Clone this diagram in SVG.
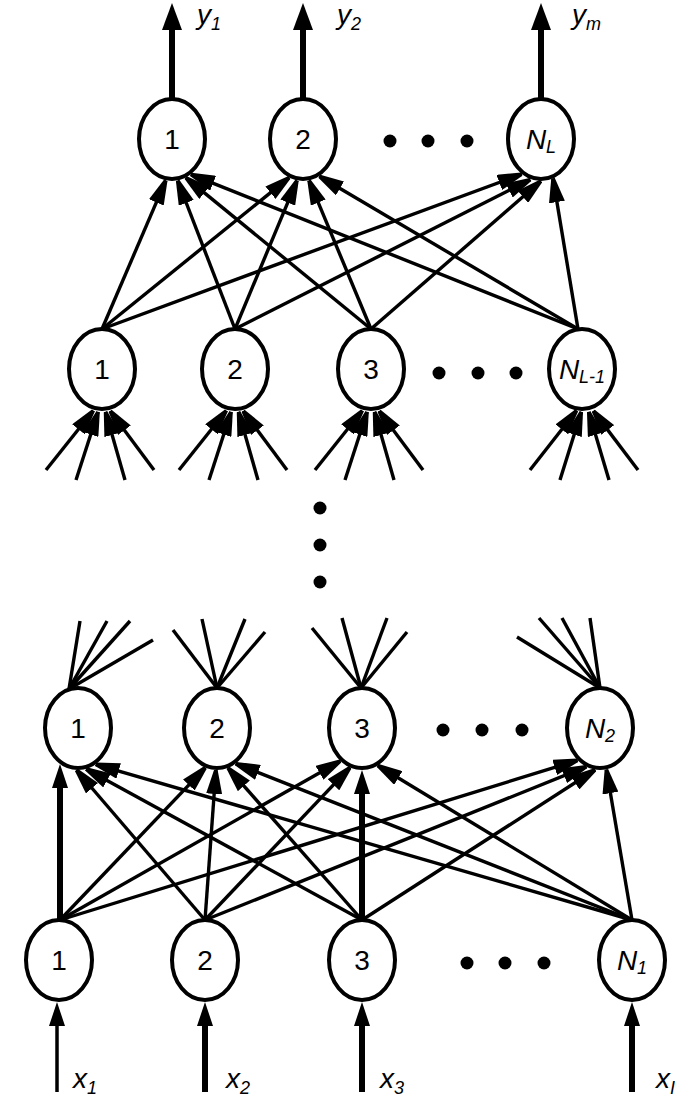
<svg xmlns="http://www.w3.org/2000/svg" width="675" height="1097" viewBox="0 0 675 1097">
<style>
.c{fill:#fff;stroke:#000;stroke-width:4}
.t{font-family:"Liberation Sans",Arial,sans-serif;font-size:28px;fill:#000}
.i{font-style:italic}
.s{font-size:18px;font-style:italic}
.ln{stroke:#000;stroke-width:3.4;fill:none}
.a{marker-end:url(#ah)}
.th{stroke:#000;stroke-width:6;fill:none;marker-end:url(#ahT)}
.tn{stroke:#000;stroke-width:3.5;fill:none;marker-end:url(#ahT)}
.out{stroke:#000;stroke-width:6;fill:none;marker-end:url(#ahO)}
.dot{fill:#000}
</style>
<defs>
<marker id="ah" viewBox="0 0 24 16" refX="24" refY="8" markerWidth="24" markerHeight="16" markerUnits="userSpaceOnUse" orient="auto"><path d="M0,0 L24,6.2 L24,9.8 L0,16 z"/></marker>
<marker id="ahT" viewBox="0 0 24 16" refX="12" refY="8" markerWidth="24" markerHeight="16" markerUnits="userSpaceOnUse" orient="auto"><path d="M0,0 L24,8 L0,16 z"/></marker>
<marker id="ahO" viewBox="0 0 27 20" refX="12" refY="10" markerWidth="27" markerHeight="20" markerUnits="userSpaceOnUse" orient="auto"><path d="M0,0 L27,10 L0,20 z"/></marker>
</defs>
<rect width="675" height="1097" fill="#fff"/>
<g id="connectors">
<!-- outputs -->
<line class="out" x1="172" y1="99" x2="172" y2="18"/>
<line class="out" x1="303" y1="99" x2="303" y2="18"/>
<line class="out" x1="541" y1="99" x2="541" y2="18"/>
<!-- layer L-1 to L -->
<g class="ln a">
<line x1="102" y1="329" x2="165.8" y2="180.3"/>
<line x1="102" y1="329" x2="289.1" y2="177.6"/>
<line x1="102" y1="329" x2="521.8" y2="174.1"/>
<line x1="235" y1="329" x2="177.6" y2="180.5"/>
<line x1="235" y1="329" x2="297" y2="180.4"/>
<line x1="235" y1="329" x2="530.5" y2="179.5"/>
<line x1="371" y1="329" x2="185.8" y2="177.6"/>
<line x1="371" y1="329" x2="309" y2="180.4"/>
<line x1="371" y1="329" x2="541" y2="181"/>
<line x1="578" y1="329" x2="190.8" y2="174.4"/>
<line x1="578" y1="329" x2="319.3" y2="176.2"/>
<line x1="578" y1="329" x2="553" y2="178.4"/>
</g>
<!-- incoming fans to layer L-1 -->
<g class="ln a">
<line x1="46" y1="470" x2="93.4" y2="410.5"/>
<line x1="76" y1="480" x2="98.1" y2="411.7"/>
<line x1="125" y1="480" x2="105.5" y2="411.8"/>
<line x1="154" y1="470" x2="110.1" y2="410.9"/>
<line x1="179" y1="470" x2="226.4" y2="410.5"/>
<line x1="209" y1="480" x2="231.1" y2="411.7"/>
<line x1="258" y1="480" x2="238.5" y2="411.8"/>
<line x1="287" y1="470" x2="243.1" y2="410.9"/>
<line x1="315" y1="470" x2="362.4" y2="410.5"/>
<line x1="345" y1="480" x2="367.1" y2="411.7"/>
<line x1="394" y1="480" x2="374.5" y2="411.8"/>
<line x1="423" y1="470" x2="379.1" y2="410.9"/>
<line x1="530" y1="470" x2="576.6" y2="410.5"/>
<line x1="560" y1="480" x2="581.3" y2="411.7"/>
<line x1="609" y1="480" x2="588.7" y2="411.8"/>
<line x1="638" y1="470" x2="593.3" y2="410.9"/>
</g>
<!-- outgoing fans from layer 2 -->
<g class="ln">
<line x1="69" y1="689" x2="80" y2="621"/>
<line x1="69" y1="689" x2="107" y2="621"/>
<line x1="69" y1="689" x2="130" y2="621"/>
<line x1="69" y1="689" x2="153" y2="640"/>
<line x1="217" y1="688" x2="173" y2="630"/>
<line x1="217" y1="688" x2="202" y2="619"/>
<line x1="217" y1="688" x2="245" y2="619"/>
<line x1="217" y1="688" x2="265" y2="632"/>
<line x1="361" y1="688" x2="312" y2="628"/>
<line x1="361" y1="688" x2="342" y2="618"/>
<line x1="361" y1="688" x2="387" y2="618"/>
<line x1="361" y1="688" x2="407" y2="632"/>
<line x1="600" y1="688" x2="517" y2="637"/>
<line x1="600" y1="688" x2="539" y2="618"/>
<line x1="600" y1="688" x2="562" y2="618"/>
<line x1="600" y1="688" x2="590" y2="618"/>
</g>
<!-- layer 1 to layer 2 -->
<line class="th" x1="60" y1="920" x2="60" y2="776"/>
<line class="th" x1="362" y1="920" x2="362" y2="782"/>
<g class="ln a">
<line x1="60" y1="920" x2="205.4" y2="767.6"/>
<line x1="60" y1="920" x2="340.4" y2="761"/>
<line x1="60" y1="920" x2="577.6" y2="760.3"/>
<line x1="205" y1="920" x2="76.4" y2="770"/>
<line x1="205" y1="920" x2="215.9" y2="770"/>
<line x1="205" y1="920" x2="350" y2="767.4"/>
<line x1="205" y1="920" x2="586.4" y2="766.7"/>
<line x1="362" y1="920" x2="86" y2="768.9"/>
<line x1="362" y1="920" x2="228" y2="767.9"/>
<line x1="362" y1="920" x2="595.2" y2="769.7"/>
<line x1="632" y1="920" x2="95.6" y2="764.3"/>
<line x1="632" y1="920" x2="235.6" y2="763.6"/>
<line x1="632" y1="920" x2="377.8" y2="765.5"/>
<line x1="632" y1="920" x2="606.4" y2="769.5"/>
</g>
<!-- inputs -->
<line class="tn" x1="57" y1="1092" x2="57" y2="1014"/>
<line class="th" x1="205" y1="1092" x2="205" y2="1014"/>
<line class="th" x1="362" y1="1092" x2="362" y2="1014"/>
<line class="th" x1="632" y1="1092" x2="632" y2="1014"/>
</g>
<g id="layer-L">
<g id="nL-1"><ellipse class="c" cx="172" cy="139" rx="33" ry="40"/><text class="t" x="172" y="149" text-anchor="middle">1</text></g>
<g id="nL-2"><ellipse class="c" cx="303" cy="139" rx="33" ry="40"/><text class="t" x="303" y="149" text-anchor="middle">2</text></g>
<g id="nL-N"><ellipse class="c" cx="541" cy="139" rx="33" ry="40"/><text class="t" x="541" y="149" text-anchor="middle"><tspan class="i">N</tspan><tspan class="s" dy="4">L</tspan></text></g>
<g id="dotsL"><circle class="dot" cx="390" cy="141" r="6.5"/><circle class="dot" cx="428" cy="141" r="6.5"/><circle class="dot" cx="467" cy="141" r="6.5"/></g>
</g>
<g id="layer-L-1">
<g id="nLm1-1"><ellipse class="c" cx="102" cy="369" rx="33" ry="40"/><text class="t" x="102" y="379" text-anchor="middle">1</text></g>
<g id="nLm1-2"><ellipse class="c" cx="235" cy="369" rx="33" ry="40"/><text class="t" x="235" y="379" text-anchor="middle">2</text></g>
<g id="nLm1-3"><ellipse class="c" cx="371" cy="369" rx="33" ry="40"/><text class="t" x="371" y="379" text-anchor="middle">3</text></g>
<g id="nLm1-N"><ellipse class="c" cx="582" cy="369" rx="33" ry="40"/><text class="t" x="582" y="379" text-anchor="middle"><tspan class="i">N</tspan><tspan class="s" dy="4">L-1</tspan></text></g>
<g id="dotsLm1"><circle class="dot" cx="439" cy="373" r="6.5"/><circle class="dot" cx="478" cy="373" r="6.5"/><circle class="dot" cx="516" cy="373" r="6.5"/></g>
</g>
<g id="vdots"><circle class="dot" cx="320" cy="508" r="6.5"/><circle class="dot" cx="320" cy="545" r="6.5"/><circle class="dot" cx="320" cy="582" r="6.5"/></g>
<g id="layer-2">
<g id="n2-1"><ellipse class="c" cx="78" cy="728" rx="33" ry="40"/><text class="t" x="78" y="738" text-anchor="middle">1</text></g>
<g id="n2-2"><ellipse class="c" cx="217" cy="728" rx="33" ry="40"/><text class="t" x="217" y="738" text-anchor="middle">2</text></g>
<g id="n2-3"><ellipse class="c" cx="362" cy="728" rx="33" ry="40"/><text class="t" x="362" y="738" text-anchor="middle">3</text></g>
<g id="n2-N"><ellipse class="c" cx="600" cy="728" rx="33" ry="40"/><text class="t" x="600" y="738" text-anchor="middle"><tspan class="i">N</tspan><tspan class="s" dy="4">2</tspan></text></g>
<g id="dots2"><circle class="dot" cx="443" cy="730" r="6.5"/><circle class="dot" cx="482" cy="730" r="6.5"/><circle class="dot" cx="522" cy="730" r="6.5"/></g>
</g>
<g id="layer-1">
<g id="n1-1"><ellipse class="c" cx="59" cy="960" rx="33" ry="40"/><text class="t" x="59" y="970" text-anchor="middle">1</text></g>
<g id="n1-2"><ellipse class="c" cx="205" cy="960" rx="33" ry="40"/><text class="t" x="205" y="970" text-anchor="middle">2</text></g>
<g id="n1-3"><ellipse class="c" cx="362" cy="960" rx="33" ry="40"/><text class="t" x="362" y="970" text-anchor="middle">3</text></g>
<g id="n1-N"><ellipse class="c" cx="632" cy="960" rx="33" ry="40"/><text class="t" x="632" y="970" text-anchor="middle"><tspan class="i">N</tspan><tspan class="s" dy="4">1</tspan></text></g>
<g id="dots1"><circle class="dot" cx="467" cy="963" r="6.5"/><circle class="dot" cx="505" cy="963" r="6.5"/><circle class="dot" cx="544" cy="963" r="6.5"/></g>
</g>
<g id="labels">
<text class="t i" x="197" y="24">y<tspan class="s" dy="6">1</tspan></text>
<text class="t i" x="337" y="24">y<tspan class="s" dy="6">2</tspan></text>
<text class="t i" x="572" y="24">y<tspan class="s" dy="6">m</tspan></text>
<text class="t i" x="73" y="1088">x<tspan class="s" dy="6">1</tspan></text>
<text class="t i" x="226" y="1088">x<tspan class="s" dy="6">2</tspan></text>
<text class="t i" x="380" y="1088">x<tspan class="s" dy="6">3</tspan></text>
<text class="t i" x="656" y="1088">x<tspan class="s" dy="6">I</tspan></text>
</g>
</svg>
